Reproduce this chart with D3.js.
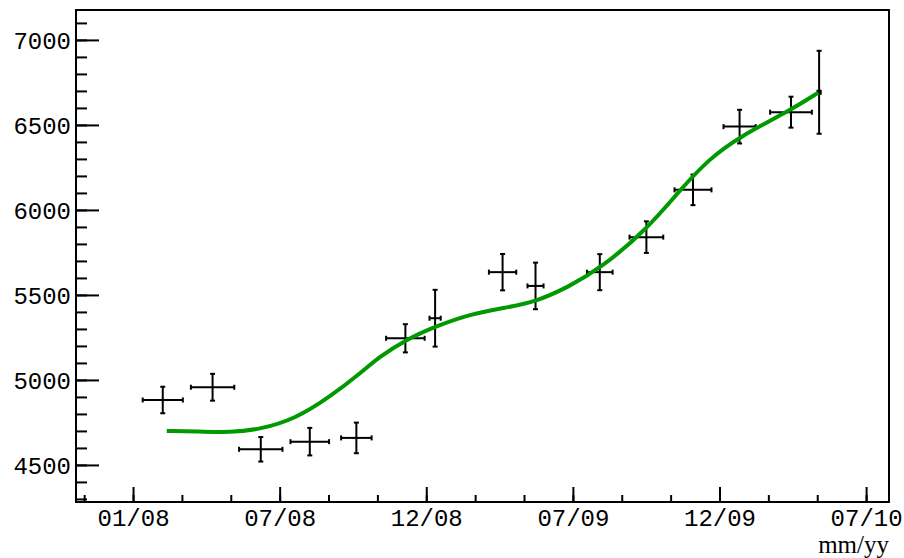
<!DOCTYPE html>
<html>
<head>
<meta charset="utf-8">
<script src="https://cdn.jsdelivr.net/npm/d3@7"></script>
<style>
body { margin: 0; background: #fff; }
</style>
</head>
<body>
<svg id="chart" width="904" height="558"></svg>
<script>
// measured points (date of the bin centre, value, errors)
var pointDates = ["2008-02-07", "2008-04-09", "2008-06-08", "2008-08-08", "2008-10-05",
    "2008-12-05", "2009-01-11", "2009-04-05", "2009-05-16", "2009-08-04",
    "2009-10-01", "2009-11-28", "2010-01-25", "2010-03-30", "2010-05-04"];
var pointValues = [4882, 4957, 4592, 4637, 4659, 5245, 5363, 5634, 5553, 5634,
    5840, 6118, 6490, 6575, 6692];
var pointErrY = [78, 79, 72, 81, 90, 83, 167, 107, 137, 106, 93, 90, 99, 91, 244];
var pointErrDays = [25, 27, 27, 24, 19, 24, 7, 17, 10, 16, 21, 23, 20, 26, 2];

// green fit curve
var curveDates = ["2008-02-12", "2008-03-24", "2008-05-01", "2008-06-07", "2008-07-21",
    "2008-09-02", "2008-10-12", "2008-11-01", "2008-12-05", "2009-01-11",
    "2009-02-24", "2009-04-06", "2009-05-17", "2009-06-25",
    "2009-08-04", "2009-10-01", "2009-11-12", "2009-12-18", "2010-01-25",
    "2010-03-30", "2010-05-03"];
var curveValues = [4700, 4697, 4691, 4709, 4771, 4900, 5047, 5130, 5235, 5314,
    5388, 5422, 5461, 5545, 5653, 5882, 6118, 6300, 6431, 6588, 6690];

// axes
var xTickDates = ["2008-01-01T00:00:00Z", "2008-07-01T12:00:00Z", "2008-12-31T00:00:00Z",
    "2009-07-01T12:00:00Z", "2009-12-31T00:00:00Z", "2010-07-01T12:00:00Z"];
var xTickLabels = ["01/08", "07/08", "12/08", "07/09", "12/09", "07/10"];
var xRange = ["2007-10-22", "2010-07-30"];
var yTicks = [4500, 5000, 5500, 6000, 6500, 7000];
var yRange = [4282, 7176];

var DAY = 864e5;
var frameL = 76, frameR = 889, frameT = 10, frameB = 502;
var labelFont = "'Liberation Mono', monospace";

var svg = d3.select("#chart");

var x = d3.scaleUtc()
    .domain(xRange.map(function (s) { return new Date(s); }))
    .range([frameL, frameR]);
var y = d3.scaleLinear()
    .domain(yRange)
    .range([frameB, frameT]);

//Minor ticks: three per major interval on x, every 100 on y
var majors = xTickDates.map(function (s) { return new Date(s); });
var step = (majors[1] - majors[0]) / 3;
var xMinor = [];
for (var t = +majors[0] - step; t < +x.domain()[1]; t += step) {
    if (t > +x.domain()[0]) xMinor.push(new Date(t));
}
var yMinor = d3.range(4300, 7200, 100);

//x axis ticks, pointing into the frame
svg.append("g")
    .attr("transform", "translate(0," + frameB + ")")
    .call(d3.axisBottom(x).tickValues(xMinor).tickSize(-7).tickFormat(""))
    .call(function (g) { g.select(".domain").remove(); });

var gx = svg.append("g")
    .attr("transform", "translate(0," + frameB + ")")
    .call(d3.axisBottom(x).tickValues(majors).tickSize(-15)
        .tickFormat(function (d, i) { return xTickLabels[i]; }));
gx.select(".domain").remove();
gx.selectAll("text")
    .attr("y", 24)
    .attr("dy", 0)
    .style("font-family", labelFont)
    .style("font-size", "24px")
    .attr("fill", "#000");

//y axis ticks
svg.append("g")
    .attr("transform", "translate(" + frameL + ",0)")
    .call(d3.axisLeft(y).tickValues(yMinor).tickSize(-11).tickFormat(""))
    .call(function (g) { g.select(".domain").remove(); });

var gy = svg.append("g")
    .attr("transform", "translate(" + frameL + ",0)")
    .call(d3.axisLeft(y).tickValues(yTicks).tickSize(-23).tickFormat(d3.format("d")));
gy.select(".domain").remove();
gy.selectAll("text")
    .attr("x", -5)
    .attr("dy", "0.36em")
    .style("font-family", labelFont)
    .style("font-size", "24px")
    .attr("fill", "#000");

svg.selectAll(".tick line")
    .attr("stroke", "#000")
    .attr("stroke-width", 2);

//Frame
svg.append("rect")
    .attr("x", frameL)
    .attr("y", frameT)
    .attr("width", frameR - frameL)
    .attr("height", frameB - frameT)
    .attr("fill", "none")
    .attr("stroke", "#000")
    .attr("stroke-width", 2);

//Axis title
svg.append("text")
    .text("mm/yy")
    .attr("x", frameR)
    .attr("y", 553)
    .attr("text-anchor", "end")
    .style("font-family", "'Liberation Serif', serif")
    .style("font-size", "25px");

//Error bars
var points = pointDates.map(function (s, i) {
    return {
        date: new Date(s),
        value: pointValues[i],
        ey: pointErrY[i],
        ex: pointErrDays[i] * DAY
    };
});

var cap = 2.5;
var gp = svg.selectAll(".point")
    .data(points)
    .enter()
    .append("g")
    .attr("class", "point")
    .attr("stroke", "#000")
    .attr("stroke-width", 2);

gp.append("line")
    .attr("x1", function (d) { return x(+d.date - d.ex); })
    .attr("x2", function (d) { return x(+d.date + d.ex); })
    .attr("y1", function (d) { return y(d.value); })
    .attr("y2", function (d) { return y(d.value); });
gp.append("line")
    .attr("x1", function (d) { return x(d.date); })
    .attr("x2", function (d) { return x(d.date); })
    .attr("y1", function (d) { return y(d.value - d.ey); })
    .attr("y2", function (d) { return y(d.value + d.ey); });

// end caps
[-1, 1].forEach(function (s) {
    gp.append("line")
        .attr("x1", function (d) { return x(+d.date + s * d.ex); })
        .attr("x2", function (d) { return x(+d.date + s * d.ex); })
        .attr("y1", function (d) { return y(d.value) - cap; })
        .attr("y2", function (d) { return y(d.value) + cap; });
    gp.append("line")
        .attr("x1", function (d) { return x(d.date) - cap; })
        .attr("x2", function (d) { return x(d.date) + cap; })
        .attr("y1", function (d) { return y(d.value + s * d.ey); })
        .attr("y2", function (d) { return y(d.value + s * d.ey); });
});

//Fit curve
var line = d3.line()
    .x(function (d, i) { return x(new Date(d)); })
    .y(function (d, i) { return y(curveValues[i]); })
    .curve(d3.curveBasis);

svg.append("path")
    .attr("d", line(curveDates))
    .attr("fill", "none")
    .attr("stroke", "#009a00")
    .attr("stroke-width", 4);
</script>
</body>
</html>
